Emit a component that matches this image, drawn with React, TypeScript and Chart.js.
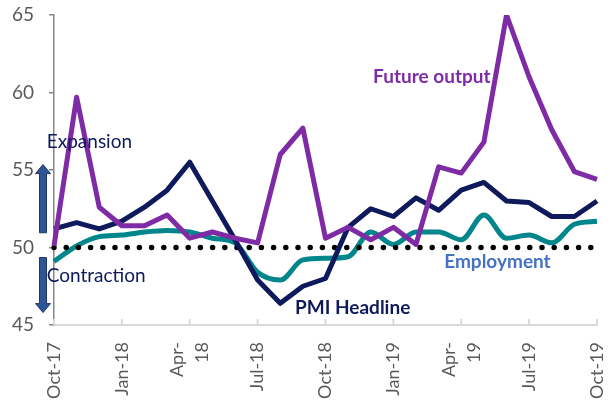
import React, { useEffect, useRef } from "react";
import { Chart, registerables } from "chart.js";

Chart.register(...registerables);

const months = [
  "Oct-17", "Nov-17", "Dec-17", "Jan-18", "Feb-18", "Mar-18", "Apr-18", "May-18", "Jun-18",
  "Jul-18", "Aug-18", "Sep-18", "Oct-18", "Nov-18", "Dec-18", "Jan-19", "Feb-19", "Mar-19",
  "Apr-19", "May-19", "Jun-19", "Jul-19", "Aug-19", "Sep-19", "Oct-19",
];
const tickLabels: Record<string, string[]> = {
  "Oct-17": ["Oct-17"],
  "Jan-18": ["Jan-18"],
  "Apr-18": ["Apr-", "18"],
  "Jul-18": ["Jul-18"],
  "Oct-18": ["Oct-18"],
  "Jan-19": ["Jan-19"],
  "Apr-19": ["Apr-", "19"],
  "Jul-19": ["Jul-19"],
  "Oct-19": ["Oct-19"],
};

const pmiHeadline = [51.2, 51.6, 51.2, 51.7, 52.6, 53.7, 55.5, 53.0, 50.5, 47.9, 46.4, 47.5, 48.0, 51.3, 52.5, 52.0, 53.2, 52.4, 53.7, 54.2, 53.0, 52.9, 52.0, 52.0, 53.0];
const futureOutput = [50.1, 59.7, 52.6, 51.4, 51.4, 52.1, 50.6, 51.0, 50.6, 50.3, 56.0, 57.7, 50.6, 51.3, 50.5, 51.3, 50.2, 55.2, 54.8, 56.8, 65.0, 61.0, 57.6, 54.9, 54.4];
const employment = [49.1, 50.1, 50.7, 50.8, 51.0, 51.1, 51.0, 50.6, 50.3, 48.4, 47.9, 49.2, 49.3, 49.4, 51.0, 50.2, 51.0, 51.0, 50.5, 52.1, 50.6, 50.8, 50.3, 51.5, 51.7];
const threshold = months.map(() => 50);

const yMin = 45;
const yMax = 65;
const yStep = 5;

const NAVY = "#0E1A5C";
const PURPLE = "#7F2BA6";
const TEAL = "#00868B";
const EMP_TEXT = "#4472C4";
const GREY = "#595959";

const annotations = [
  { text: "Future output", idx: 16.7, val: 61.0, color: PURPLE, bold: true, align: "center" },
  { text: "Employment", idx: 19.6, val: 49.1, color: EMP_TEXT, bold: true, align: "center" },
  { text: "PMI Headline", idx: 13.2, val: 46.1, color: NAVY, bold: true, align: "center" },
  { text: "Expansion", idx: -0.32, val: 56.8, color: NAVY, bold: false, align: "left" },
  { text: "Contraction", idx: -0.32, val: 48.2, color: NAVY, bold: false, align: "left" },
];
// arrows: [fromValue, toValue]
const arrows = [
  [50.95, 55.35],
  [49.35, 45.8],
];

const overlayPlugin = {
  id: "overlay",
  afterDatasetsDraw(chart: any) {
    const { ctx, scales, chartArea } = chart;
    const xs = scales.x;
    const ys = scales.y;
    ctx.save();
    // inside tick marks + rotated labels on the x axis
    months.forEach((m, i) => {
      const lines = tickLabels[m];
      if (lines === undefined) return;
      const x = xs.getPixelForValue(i);
      ctx.strokeStyle = "#D9D9D9";
      ctx.lineWidth = 2;
      ctx.beginPath();
      ctx.moveTo(x, chartArea.bottom);
      ctx.lineTo(x, chartArea.bottom - 6);
      ctx.stroke();
      ctx.save();
      ctx.translate(x, chartArea.bottom + 17);
      ctx.rotate(-Math.PI / 2);
      ctx.font = "18px Lato";
      ctx.fillStyle = GREY;
      ctx.textAlign = "right";
      ctx.textBaseline = "middle";
      const lh = 25;
      lines.forEach((ln, j) => {
        ctx.fillText(ln, 0, (j - (lines.length - 1) / 2) * lh);
      });
      ctx.restore();
    });
    const ax = chartArea.left - 11;
    arrows.forEach(([from, to]) => {
      const y0 = ys.getPixelForValue(from);
      const y1 = ys.getPixelForValue(to);
      const dir = y1 < y0 ? -1 : 1;
      const headH = 9;
      const headW = 7.5;
      const shaftW = 3.5;
      const yb = y1 - dir * headH;
      ctx.beginPath();
      ctx.moveTo(ax - shaftW, y0);
      ctx.lineTo(ax - shaftW, yb);
      ctx.lineTo(ax - headW, yb);
      ctx.lineTo(ax, y1);
      ctx.lineTo(ax + headW, yb);
      ctx.lineTo(ax + shaftW, yb);
      ctx.lineTo(ax + shaftW, y0);
      ctx.closePath();
      ctx.fillStyle = "#2F5597";
      ctx.fill();
      ctx.strokeStyle = "#1F3864";
      ctx.lineWidth = 1;
      ctx.stroke();
    });
    annotations.forEach((a) => {
      const x = chartArea.left + (xs.getPixelForValue(1) - xs.getPixelForValue(0)) * a.idx;
      const y = ys.getPixelForValue(a.val);
      ctx.font = `${a.bold ? "bold " : ""}19px Lato`;
      ctx.fillStyle = a.color;
      ctx.textAlign = a.align as CanvasTextAlign;
      ctx.textBaseline = "middle";
      ctx.fillText(a.text, x, y);
    });
    ctx.restore();
  },
};

export default function App() {
  const ref = useRef<HTMLCanvasElement>(null);
  useEffect(() => {
    document.body.style.margin = "0";
    const chart = new Chart(ref.current!, {
      type: "line",
      data: {
        labels: months,
        datasets: [
          { label: "Future output", data: futureOutput, borderColor: PURPLE, borderWidth: 5, pointRadius: 0, tension: 0, borderJoinStyle: "round" },
          { label: "PMI Headline", data: pmiHeadline, borderColor: NAVY, borderWidth: 5, pointRadius: 0, tension: 0, borderJoinStyle: "round" },
          { label: "Threshold", data: threshold, borderColor: "#000000", borderWidth: 5.5, pointRadius: 0, borderDash: [0, 12.2], borderCapStyle: "round" },
          { label: "Employment", data: employment, borderColor: TEAL, borderWidth: 5, pointRadius: 0, tension: 0.4, cubicInterpolationMode: "monotone" },
        ],
      },
      options: {
        animation: false,
        responsive: false,
        layout: { padding: { top: 15, right: 13, left: 0, bottom: 0 } },
        plugins: { legend: { display: false }, tooltip: { enabled: false } },
        scales: {
          x: {
            grid: { display: false, drawTicks: false },
            border: { display: true, color: "#D9D9D9", width: 2 },
            afterFit: (s: any) => {
              s.height = 77;
              s.paddingLeft = 0;
              s.paddingRight = 0;
              s.paddingTop = 0;
              s.paddingBottom = 0;
            },
            ticks: { display: false, autoSkip: false },
          },
          y: {
            min: yMin,
            max: yMax,
            afterFit: (s: any) => {
              s.width = 54;
              s.paddingLeft = 0;
              s.paddingRight = 0;
              s.paddingTop = 0;
              s.paddingBottom = 0;
            },
            grid: { display: true, drawOnChartArea: false, drawTicks: true, tickLength: 5, color: "#868686", lineWidth: 1.5 },
            border: { display: true, color: "#868686", width: 1.5 },
            ticks: { stepSize: yStep, padding: 15, color: GREY, font: { family: "Lato", size: 19 } },
          },
        },
      },
      plugins: [overlayPlugin],
    });
    return () => chart.destroy();
  }, []);
  return (
    <div style={{ position: "fixed", left: 0, top: 0, width: 610, height: 402, background: "#fff" }}>
      <canvas ref={ref} width={610} height={402} style={{ width: 610, height: 402 }} />
    </div>
  );
}
